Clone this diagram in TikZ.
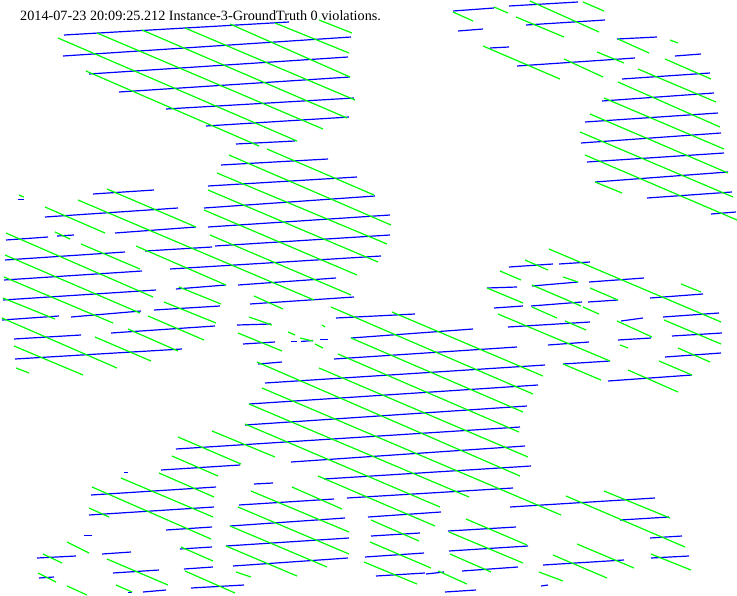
\documentclass[tikz,border=0pt]{standalone}
\usepackage{fontspec}
\setmainfont{Liberation Serif}
\tikzset{bluebar/.style = {draw = blue, line width = 1.2pt},
  greenbar/.style = {draw = green, line width = 1.2pt}}
\begin{document}
\begin{tikzpicture}[x = 1pt, y = -1pt]
              \useasboundingbox (0,0) rectangle (737,595);
              \node (title) [anchor = base west, inner sep = 0pt, font = \fontsize{14.2}{14.2}\selectfont] at (20,20) {2014-07-23 20:09:25.212 Instance-3-GroundTruth 0 violations.};
              \foreach \xa/\ya/\xb/\yb in {64/35/289/22, 63/56/351/37, 89/74/348/57, 119/92/350/77, 166/109/354/98, 206/126/349/117,
                236/144/295/141, 221/165/328/159, 208/186/357/177, 204/208/375/196, 208/227/390/215, 215/246/390/235,
                170/269/381/256, 145/251/212/247, 238/285/336/278, 250/304/354/297, 176/289/226/285, 154/310/220/306,
                111/333/215/326, 237/325/271/324, 243/344/275/342, 291/341.5/297/341.5, 301/341.5/313/340.5, 320/339.5/328/339.5,
                336/318/415/314, 351/338/473/329, 334/359/517/347, 258/364/282/362, 265/383/545/365, 249/404/538/385,
                245/425/527/406, 176/449/520/427, 291/462/525/446, 324/479/531/466, 161/470/240/465, 347/498/513/488,
                510/507/655/498, 620/520/669/517, 650/538/682/536, 651/558/689/556, 543/565/624/560, 448/531/516/527,
                449/551/528/546, 462/571/518/567, 445/592/476/590, 541/586/548/585, 254/484/273/483, 239/505/334/499,
                368/517/441/512, 230/526/345/518, 226/546/349/538, 233/566/348/558, 371/536/420/533, 365/557/424/553,
                376/576/425/573, 426/574/444/572, 124/472.5/128/472.5, 91/495/216/487, 89/515/214/507, 166/530/212/527,
                84/535.5/92/535.5, 180/549/212/547, 102/554/131/552, 37/558/76/556, 113/573/159/570, 184/569/213/567,
                191/588/244/585, 39/578/54/577, 128/592.5/132/592.5, 143/592/166/590, 18/199.5/24/199.5, 93/194/154/190,
                45/217/178/208, 115/233/196/227, 6/240/48/237, 57/236/74/235, 5/260/125/252, 4/280/142/271,
                3/300/156/290, 2/320/59/316, 71/317/141/311, 14/339/81/335, 15/359/182/349, 453/11/494/8,
                458/31/483/29, 490/48/509/47, 509/6/578/2, 526/25/605/20, 617/39/657/37, 517/66/635/58,
                675/56/701/54, 622/79/710/73, 602/101/714/93, 585/122/718/113, 581/143/721/133, 587/162/724/153,
                595/182/728/172, 647/198/732/192, 711/214/736/212, 509/267/553/264, 559/264/590/262, 487/288/517/287,
                532/286/578/282, 589/282/644/278, 650/298/703/294, 494/308/523/306, 531/306/582/302, 588/302/618/300,
                621/321/643/318, 663/317/719/313, 508/327/590/322, 618/340/651/338, 672/336/722/333, 548/345/589/342,
                665/357/721/353, 563/364/610/361, 608/381/692/375}
              \draw [bluebar] (\xa,\ya) -- (\xb,\yb);
              \foreach \xa/\ya/\xb/\yb in {97/33/323/129, 58/38/297/141, 142/30/347/118, 185/28/355/100, 230/24/350/77, 86/71/259/146,
                275/23/349/53, 319/20/352/33, 267/149/374/195, 229/155/391/225, 217/173/387/244, 208/190/378/262,
                204/210/357/275, 210/235/351/295, 78/200/314/300, 136/246/226/285, 254/296/283/309, 179/287/221/304,
                164/302/216/323, 249/317/272/325, 238/333/282/351, 288/332/295/335, 300/338/313/341, 315/344/323/348,
                322/325/325/327, 331/307/533/394, 392/312/543/376, 351/338/523/412, 338/354/519/432, 319/368/528/457,
                257/362/520/476, 262/388/561/515, 249/404/469/497, 466/519/527/545, 449/532/523/563, 450/554/491/572,
                438/571/467/584, 566/496/685/547, 604/491/670/518, 577/544/634/568, 553/555/607/578, 539/572/563/581,
                651/554/691/570, 178/437/241/464, 212/431/275/457, 172/456/218/476, 159/473/214/497, 121/478/213/517,
                92/487/211/539, 89/508/109/517, 181/547/213/561, 67/542/89/553, 43/554/62/563, 107/559/168/585,
                38/573/56/582, 116/585/132/592, 67/586/87/595, 185/571/235/593, 245/424/440/507, 318/476/435/526,
                292/487/342/509, 251/491/349/532, 238/507/349/554, 230/526/327/567, 226/546/297/576, 236/572/251/577,
                371/520/419/541, 370/542/431/568, 364/562/417/584, 19/195/24/197, 45/207/105/233, 107/189/196/227,
                6/233/153/297, 5/255/140/313, 4/277/113/323, 3/298/55/319, 2/318/117/368, 14/346/83/375,
                16/368/29/373, 81/244/140/269, 55/232/70/239, 148/316/204/340, 128/329/178/351, 95/337/151/361,
                453/12/473/21, 483/46/560/79, 494/7/508/13, 530/1/599/32, 583/2/604/11, 516/17/564/37,
                618/39/649/53, 670/40/678/43, 597/52/624/63, 564/59/603/77, 665/59/711/79, 638/69/716/102,
                618/82/720/127, 604/98/724/149, 590/114/728/173, 580/132/733/197, 585/155/737/220, 595/182/622/193,
                549/249/721/322, 525/260/548/270, 500/271/521/280, 563/277/578/282, 681/284/701/292, 487/288/523/303,
                532/285/581/306, 590/288/618/300, 532/307/557/318, 583/307/599/314, 498/314/610/361, 565/321/586/330,
                617/321/652/337, 664/320/721/344, 678/348/710/362, 659/361/692/375, 620/345/628/348, 628/370/678/392,
                563/364/601/380}
              \draw [greenbar] (\xa,\ya) -- (\xb,\yb);
            \end{tikzpicture}
\end{document}
